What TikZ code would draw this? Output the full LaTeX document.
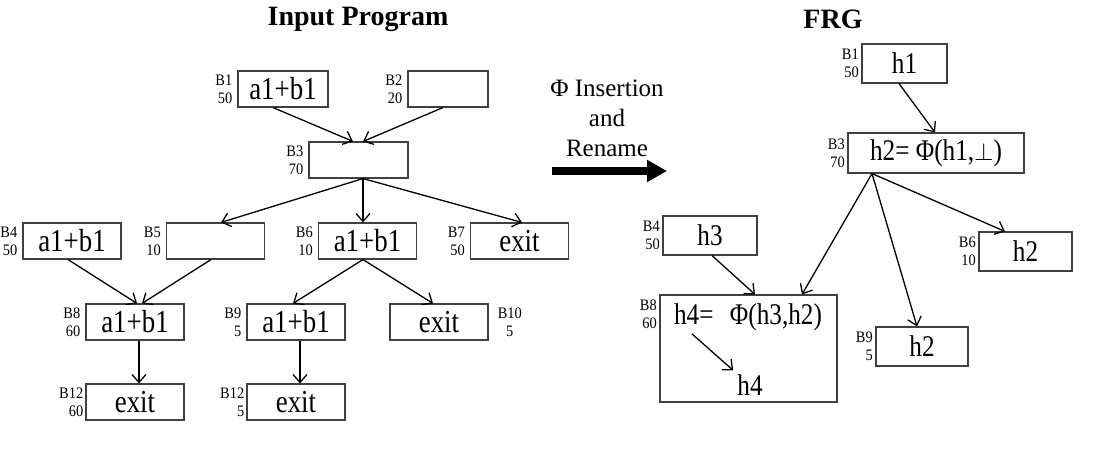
\documentclass[tikz,border=0pt]{standalone}
\usepackage{fontspec}
\setmainfont{Liberation Serif}
\newfontfamily\boxfont[FakeStretch=0.84]{Liberation Serif}
\newfontfamily\tagfont[FakeStretch=0.9]{Liberation Serif}
\usepackage{tikz}
\usetikzlibrary{arrows.meta, positioning, calc}

\begin{document}
\begin{tikzpicture}[
    x=1pt, y=-1pt,
    box/.style={draw=black!75, line width=1.1pt, minimum width=98pt, minimum height=36pt,
      inner sep=0pt, font=\boxfont\fontsize{32}{34}\selectfont},
    hbox/.style={box, minimum width=93pt, minimum height=39pt, font=\boxfont\fontsize{30}{32}\selectfont},
    tag/.style={align=right, inner sep=1pt, font=\tagfont\fontsize{16}{18}\selectfont},
    title/.style={font=\fontsize{28}{30}\selectfont\bfseries},
    arrow/.style={-{Straight Barb[length=8pt, width=14pt]}, line width=1.3pt},
    bigarrow/.style={-{Triangle[length=20pt, width=21pt]}, line width=8pt},
  ]
  \useasboundingbox (0,0) rectangle (1100,450);

  % Titles
  \node[title] (tin) at (358,19) {Input Program};
  \node[title] (tfrg) at (833,19) {FRG};

  % Input program blocks
  \node[box, minimum width=90pt] (b1) at (283,89) {a1+b1};
  \node[box, minimum width=80pt] (b2) at (448,89) {};
  \node[box, minimum width=99pt] (b3) at (358.5,160) {};
  \node[box] (b4) at (72,241) {a1+b1};
  \node[box] (b5) at (215.5,241) {};
  \node[box] (b6) at (367.5,241) {a1+b1};
  \node[box] (b7) at (519.5,241) {exit};
  \node[box] (b8) at (135,322) {a1+b1};
  \node[box] (b9) at (296,322) {a1+b1};
  \node[box] (b10) at (439,322) {exit};
  \node[box] (b12a) at (135,402) {exit};
  \node[box] (b12b) at (296,402) {exit};

  % Block names and counts
  \node[tag, left=4pt of b1] {B1\\50};
  \node[tag, left=4pt of b2] {B2\\20};
  \node[tag, left=4pt of b3] {B3\\70};
  \node[tag, left=4pt of b4] {B4\\50};
  \node[tag, left=4pt of b5] {B5\\10};
  \node[tag, left=4pt of b6] {B6\\10};
  \node[tag, left=4pt of b7] {B7\\50};
  \node[tag, left=4pt of b8] {B8\\60};
  \node[tag, left=4pt of b9] {B9\\5};
  \node[tag, align=center, right=8pt of b10] {B10\\5};
  \node[tag, left=1pt of b12a] {B12\\60};
  \node[tag, left=1pt of b12b] {B12\\5};

  % Input program edges
  \draw[arrow] ([xshift=-10pt]b1.south) -- ([xshift=-5.5pt]b3.north);
  \draw[arrow] ([xshift=-5pt]b2.south) -- ([xshift=4.5pt]b3.north);
  \draw[arrow] ([xshift=4.5pt]b3.south) -- ([xshift=5.5pt]b5.north);
  \draw[arrow] ([xshift=4.5pt]b3.south) -- ([xshift=-4.5pt]b6.north);
  \draw[arrow] ([xshift=4.5pt]b3.south) -- ([xshift=2.5pt]b7.north);
  \draw[arrow] ([xshift=-4pt]b4.south) -- ([xshift=2pt]b8.north);
  \draw[arrow] ([xshift=-4.5pt]b5.south) -- ([xshift=7pt]b8.north);
  \draw[arrow] ([xshift=4pt]b8.south) -- ([xshift=4pt]b12a.north);
  \draw[arrow] ([xshift=-4.5pt]b6.south) -- ([xshift=-3pt]b9.north);
  \draw[arrow] ([xshift=-4.5pt]b6.south) -- ([xshift=-6pt]b10.north);
  \draw[arrow] ([xshift=4pt]b9.south) -- ([xshift=4pt]b12b.north);

  % Transformation arrow
  \node[align=center, font=\fontsize{25}{30}\selectfont] (xform) at (607,118)
    {Φ Insertion\\and\\Rename};
  \coordinate (xs) at (552,171);
  \coordinate (xe) at (667,171);
  \draw[bigarrow] (xs) -- (xe);

  % FRG nodes
  \node[hbox, minimum width=85pt] (f1) at (904.5,63.5) {h1};
  \node[hbox, minimum width=176pt, minimum height=40pt] (f3) at (936,153) {h2= Φ(h1,$\perp$)};
  \node[hbox, minimum width=94pt] (f4) at (710,235.5) {h3};
  \node[hbox] (f6) at (1025.5,251.5) {h2};
  \node[hbox, minimum width=177pt, minimum height=107pt] (f8) at (748.5,348.5) {};
  \node[hbox, minimum width=92pt] (f9) at (922,346.5) {h2};
  \node[font=\boxfont\fontsize{30}{32}\selectfont, inner sep=1pt] (phi) at (748,317) {h4=\hspace{0.55em}Φ(h3,h2)};
  \node[font=\boxfont\fontsize{30}{32}\selectfont, inner sep=1pt] (h4) at (750,385) {h4};

  \node[tag, left=1.5pt of f1] {B1\\50};
  \node[tag, left=1.5pt of f3] {B3\\70};
  \node[tag, left=1.5pt of f4] {B4\\50};
  \node[tag, left=1.5pt of f6] {B6\\10};
  \node[tag, left=1.5pt of f8.north west, anchor=north east, yshift=-4pt] {B8\\60};
  \node[tag, left=1.5pt of f9] {B9\\5};

  % FRG edges
  \draw[arrow] ([xshift=-5.5pt]f1.south) -- ([xshift=-1pt]f3.north);
  \draw[arrow] ([xshift=-64pt]f3.south) -- ([xshift=53.5pt]f8.north);
  \draw[arrow] ([xshift=-64pt]f3.south) -- ([xshift=-5pt]f9.north);
  \draw[arrow] ([xshift=-64pt]f3.south) -- ([xshift=-20.5pt]f6.north);
  \draw[arrow] ([xshift=2pt]f4.south) -- ([xshift=6.5pt]f8.north);
  \draw[arrow] ([xshift=19pt, yshift=-2pt]phi.south west) -- ([xshift=-3pt, yshift=3pt]h4.north west);

\end{tikzpicture}
\end{document}
